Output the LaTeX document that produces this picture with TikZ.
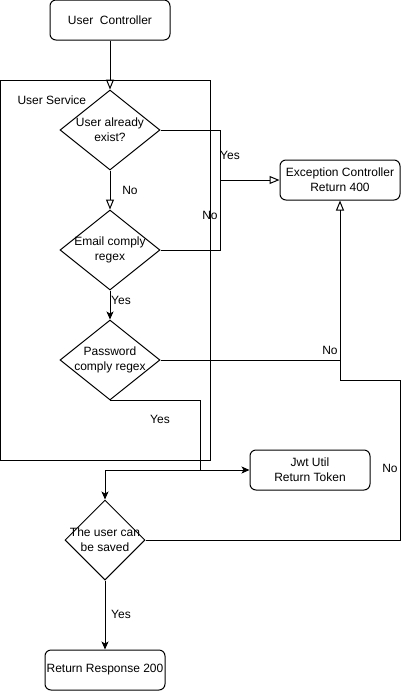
\documentclass[tikz,border=0pt]{standalone}
\usepackage{fontspec}
\setmainfont{Liberation Sans}
\usetikzlibrary{shapes.geometric,arrows.meta}

\begin{document}
\begin{tikzpicture}[x=1pt,y=-1pt,line width=1pt,
	font=\fontsize{12}{15}\selectfont,
	box/.style={draw,rounded corners=6pt,minimum width=120pt,minimum height=40pt,align=center,inner sep=0pt},
	decision/.style={draw,diamond,minimum width=100pt,minimum height=80pt,inner sep=0pt},
	openarr/.style={-{Triangle[open,length=10pt,width=8pt]}},
	arr/.style={-{Stealth[length=8pt,width=7pt,inset=2pt]}},
	lbl/.style={inner sep=0pt}]
		\useasboundingbox (0,0) rectangle (411,691);
		\node [box] (ctrl) at (110,20) {User\ \ Controller};
		% User Service
		\draw (0.5,80) rectangle (210,460);
		\node [lbl,anchor=west] (svc) at (17,100) {User Service};
		\node [decision,label={[align=center]center:User already\\exist?}] (exist) at (110,130) {};
		\node [decision,label={[align=center]center:Email comply\\regex}] (email) at (110,250) {};
		\node [decision,label={[align=center]center:Password\\comply regex}] (pass) at (110,360) {};
		\node [decision,minimum width=80pt,label={[align=center]center:The user can\\be saved}] (save) at (105,540) {};
		\node [box] (exc) at (340,180) {Exception Controller\\Return 400};
		\node [box] (jwt) at (310,470) {Jwt Util\\Return Token};
		\node [box] (ret) at (105,670) {Return Response 200};
		\coordinate (j1) at (220,180);
		\coordinate (j2) at (340,380);
		\coordinate (j3) at (200,470);
		\coordinate (c1) at (400,380);
		% Pfeile
		\draw [openarr] (ctrl.south) -- (exist.north);
		\draw [openarr] (exist.south) -- (email.north);
		\draw [openarr] (exist.east) -| (j1) -- (exc.west);
		\draw (email.east) -| (j1);
		\draw [arr] (email.south) -- (pass.north);
		\draw [openarr] (pass.east) -| (exc.south);
		\draw (save.east) -| (c1) -- (j2) -- (pass.east -| j2);
		\draw [arr] (pass.south) -| (j3) -- (jwt.west);
		\draw [arr] (j3) -| (save.north);
		\draw [arr] (save.south) -- (ret.north);
		% Labels
		\node [lbl] (yes1) at (230,155) {Yes};
		\node [lbl] (no1) at (130,190) {No};
		\node [lbl] (no2) at (210,215) {No};
		\node [lbl] (yes2) at (121,300) {Yes};
		\node [lbl] (no3) at (330,350) {No};
		\node [lbl] (yes3) at (160,419) {Yes};
		\node [lbl] (no4) at (390,468) {No};
		\node [lbl] (yes4) at (121,614) {Yes};
\end{tikzpicture}
\end{document}
